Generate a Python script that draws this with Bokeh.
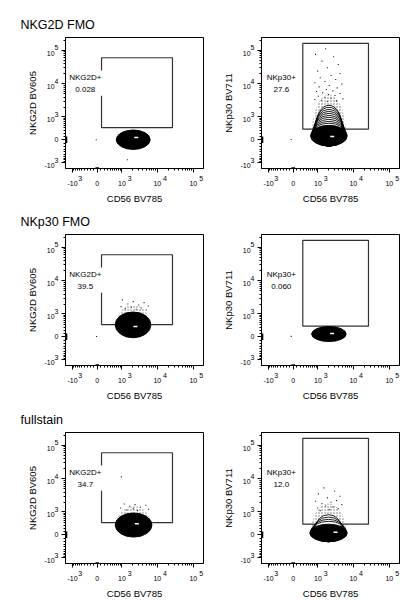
import numpy as np
from bokeh.plotting import figure
from bokeh.layouts import column, row
from bokeh.models import FixedTicker, Label, Range1d
from bokeh.embed import file_html
from bokeh.resources import INLINE

# ---------------- data (raw fluorescence units) ----------------
row_titles = ["NKG2D FMO", "NKp30 FMO", "fullstain"]
x_axis_label = "CD56 BV785"
y_axis_labels = ["NKG2D BV605", "NKp30 BV711"]
gate_names = ["NKG2D+", "NKp30+"]
gate_freqs = [["0.028", "27.6"], ["39.5", "0.060"], ["34.7", "12.0"]]

tick_values = [-1000, 0, 1000, 10000, 100000]
tick_base = ["-10", "0", "10", "10", "10"]
tick_exp = ["3", "", "3", "4", "5"]

# gates: column 0 = NKG2D+ gate, column 1 = NKp30+ gate
gate_x_lo = [120, 280]
gate_x_hi = [26400, 26400]
gate_y_lo = [400, 340]
gate_y_hi = [60600, 163000]

# main population extent, panels in reading order
pop_x_lo = [663, 579, 611, 631, 611, 545]
pop_x_hi = [6340, 6790, 6635, 6340, 7110, 6790]
pop_y_lo = [-309, -194, -30, -145, -70, -216]
pop_y_hi = [309, 498, 1140, 329, 911, 340]

# density peak
peak_x = [2590, 2590, 2450, 2570, 2690, 3200]
peak_y = [65, 93, 329, 96, 359, 73]

# tops of the outer contour levels
contour_tops = [[], [2280, 1980, 1720, 1490, 1290, 1110, 960, 820, 700, 600],
                [], [], [], [800, 660, 545, 455]]

# top of the dense fringe of events above each population (0 = none)
dense_top = [0, 4800, 1890, 0, 1490, 1810]

# individual outlier events
events_x = [
    [1450, -27],
    [1681, 845, 2817, 1320, 3814, 1893, 983, 4280, 2394, 1170, 3240, 1604, 802, 4803, 2128, 1088,
     3556, 1763, 2690, 911, 1385, 4280, 2030, 3090, 1032, 1604, 2394, 5150, 802, 1256, 3393, 1893, -55],
    [1032, 2128, 4280, 1492, 3023, 5654, 937, 1893, 3556, 1256, 2567, 4915, -18],
    [-55],
    [958, 1170, 2394, 4803, 1681, 3393, 911, 2128, 5654, 1385, 2817],
    [1492, 3023, 1032, 4280, 1893, 3393, 845, 2394, 1320, 4803, 1681, 2690, 983, 3814, 2128, 1170],
]
events_y = [
    [-800, 0],
    [112900, 76300, 64900, 48130, 38240, 30370, 24100, 20530, 17880, 15220, 13600, 11820, 10790, 9830,
     8960, 8170, 7630, 6790, 6195, 5913, 5400, 5150, 4803, 4481, 4280, 3995, 3728, 3556, 3393, 3240,
     3090, 2954, 7],
    [2690, 2394, 2232, 2030, 1893, 1763, 1681, 1604, 1528, 1457, 1385, 1320, 8],
    [9],
    [11540, 1763, 1681, 1604, 1492, 1385, 1320, 1256, 1200, 1140, 1088],
    [5400, 4280, 3556, 3023, 2690, 2232, 2128, 1982, 1806, 1681, 1528, 1424, 1320, 1256, 1170, 1088],
]

# ---------------- transform (biexponential-like display) ----------------
COF = 430.0


def T(v):
    return np.arcsinh(np.asarray(v, dtype=float) / COF) / np.log(10)


def r6(a):
    return [round(float(v), 6) for v in np.atleast_1d(a)]


XR = (-0.88, 2.95)
YR = (-0.86, 3.055)
FONT = "Liberation Sans"
NB = "\u00a0"

major_pos = r6(T(tick_values))
minor_vals = [s * m * 10 ** k for s in (-1, 1) for k in (2, 3, 4) for m in range(1, 10)] + [100000, 200000]
minor_pos = r6(T(minor_vals))

# tick label texts: exponent on a raised line, set to the right of the base
x_over, y_over = {}, {}
for pos, b, e in zip(major_pos, tick_base, tick_exp):
    if e:
        x_over[pos] = NB * 8 + e + "\n" + b
        y_over[pos] = e + "\n" + b + NB * 2
    else:
        x_over[pos] = NB + "\n" + b
        y_over[pos] = b

W = [206, 196]
H = [206, 197, 198]
MBL = [65, 55]
MBR = [3, 3]
MBT = [37, 28, 29]
MBB = 32
YLBL_STANDOFF = [3, 3]

rows = []
for r in range(3):
    rowfigs = []
    for c in range(2):
        i = 2 * r + c
        p = figure(width=W[c], height=H[r], x_range=Range1d(*XR), y_range=Range1d(*YR),
                   output_backend="svg", toolbar_location=None,
                   min_border_left=MBL[c], min_border_right=MBR[c],
                   min_border_top=MBT[r], min_border_bottom=MBB)
        p.grid.visible = False
        p.outline_line_color = "black"
        p.outline_line_width = 1
        p.outline_line_alpha = 1
        if c == 0:
            p.title.text = row_titles[r]
            p.title.align = "left"
            p.title.offset = -45
            p.title.text_font = FONT
            p.title.text_font_size = "12.5px"
            p.title.text_font_style = "normal"
            p.title.text_color = "black"
            p.title.standoff = 11
        for ax in (p.xaxis[0], p.yaxis[0]):
            ax.ticker = FixedTicker(ticks=major_pos, minor_ticks=minor_pos)
            ax.major_label_text_font = FONT
            ax.major_label_text_font_size = "7px"
            ax.major_label_text_color = "black"
            ax.major_label_text_line_height = 0.75
            ax.major_tick_out = 4
            ax.major_tick_in = 0
            ax.minor_tick_out = 2
            ax.minor_tick_in = 0
            ax.axis_label_text_font = FONT
            ax.axis_label_text_font_size = "9.5px"
            ax.axis_label_text_font_style = "normal"
            ax.axis_label_text_color = "black"
            ax.axis_line_color = "black"
            ax.major_tick_line_color = "black"
            ax.minor_tick_line_color = "black"
        p.xaxis.major_label_overrides = x_over
        p.yaxis.major_label_overrides = y_over
        p.xaxis.major_label_standoff = 2
        p.yaxis.major_label_standoff = 3
        p.xaxis.axis_label = x_axis_label
        p.xaxis.axis_label_standoff = 3
        p.yaxis.axis_label = y_axis_labels[c]
        p.yaxis.axis_label_standoff = YLBL_STANDOFF[c]

        x0, x1 = float(T(pop_x_lo[i])), float(T(pop_x_hi[i]))
        y0, y1 = float(T(pop_y_lo[i])), float(T(pop_y_hi[i]))
        pw = x1 - x0
        cxp = (x0 + x1) / 2
        cyp = (y0 + y1) / 2

        # dense fringe of events above the population (stipple)
        if dense_top[i]:
            th = np.linspace(0, np.pi, 40)
            hh = float(T(dense_top[i])) - cyp
            p.patch(x=cxp + 0.47 * pw * np.cos(th), y=cyp + hh * np.sin(th), fill_alpha=0, line_alpha=0,
                    hatch_pattern=".", hatch_color="black", hatch_scale=3, hatch_weight=0.6,
                    hatch_alpha=0.55)

        # individual outlier events
        p.rect(x=T(events_x[i]), y=T(events_y[i]), width=1.1, height=1.1, width_units="screen",
               height_units="screen", fill_color="black", line_alpha=0, fill_alpha=0.85)

        # gate
        g = c
        p.quad(left=T([gate_x_lo[g]]), right=T([gate_x_hi[g]]), bottom=T([gate_y_lo[g]]),
               top=T([gate_y_hi[g]]), fill_alpha=0, line_color="#333333", line_width=1.2)

        # contours
        tops = contour_tops[i]
        if tops:
            n = len(tops)
            for k, top in enumerate(tops):
                yt = float(T(top))
                hh = yt - y0
                ww = pw * (0.70 + 0.25 * k / max(n - 1, 1))
                p.ellipse(x=[cxp], y=[y0 + hh / 2], width=[ww], height=[hh],
                          fill_color="white", fill_alpha=1 if k == 0 else 0,
                          line_color="black", line_width=0.9)
        p.ellipse(x=[cxp], y=[cyp], width=[pw], height=[y1 - y0],
                  fill_color="black", line_color="black", line_width=1)
        p.rect(x=T([peak_x[i]]), y=T([peak_y[i]]), width=4, height=1.5, width_units="screen",
               height_units="screen", fill_color="white", line_alpha=0)

        # off-scale events piled on the axes
        p.rect(x=[XR[0]], y=[0.0], width=0.1, height=0.2, fill_color="black", line_alpha=0)
        p.rect(x=[0.0], y=[YR[0]], width=0.1, height=0.08, fill_color="black", line_alpha=0)

        lab = Label(x=-0.33, y=1.69, text=f"{gate_names[g]}\n{gate_freqs[r][c]}",
                    text_align="center", text_baseline="middle", text_font=FONT,
                    text_font_size="8px", text_line_height=1.35, text_color="black",
                    background_fill_color="white", padding=2)
        p.add_layout(lab)
        rowfigs.append(p)
    rows.append(row(*rowfigs))

layout = column(*rows)
open("out.html", "w").write(file_html(layout, INLINE))
